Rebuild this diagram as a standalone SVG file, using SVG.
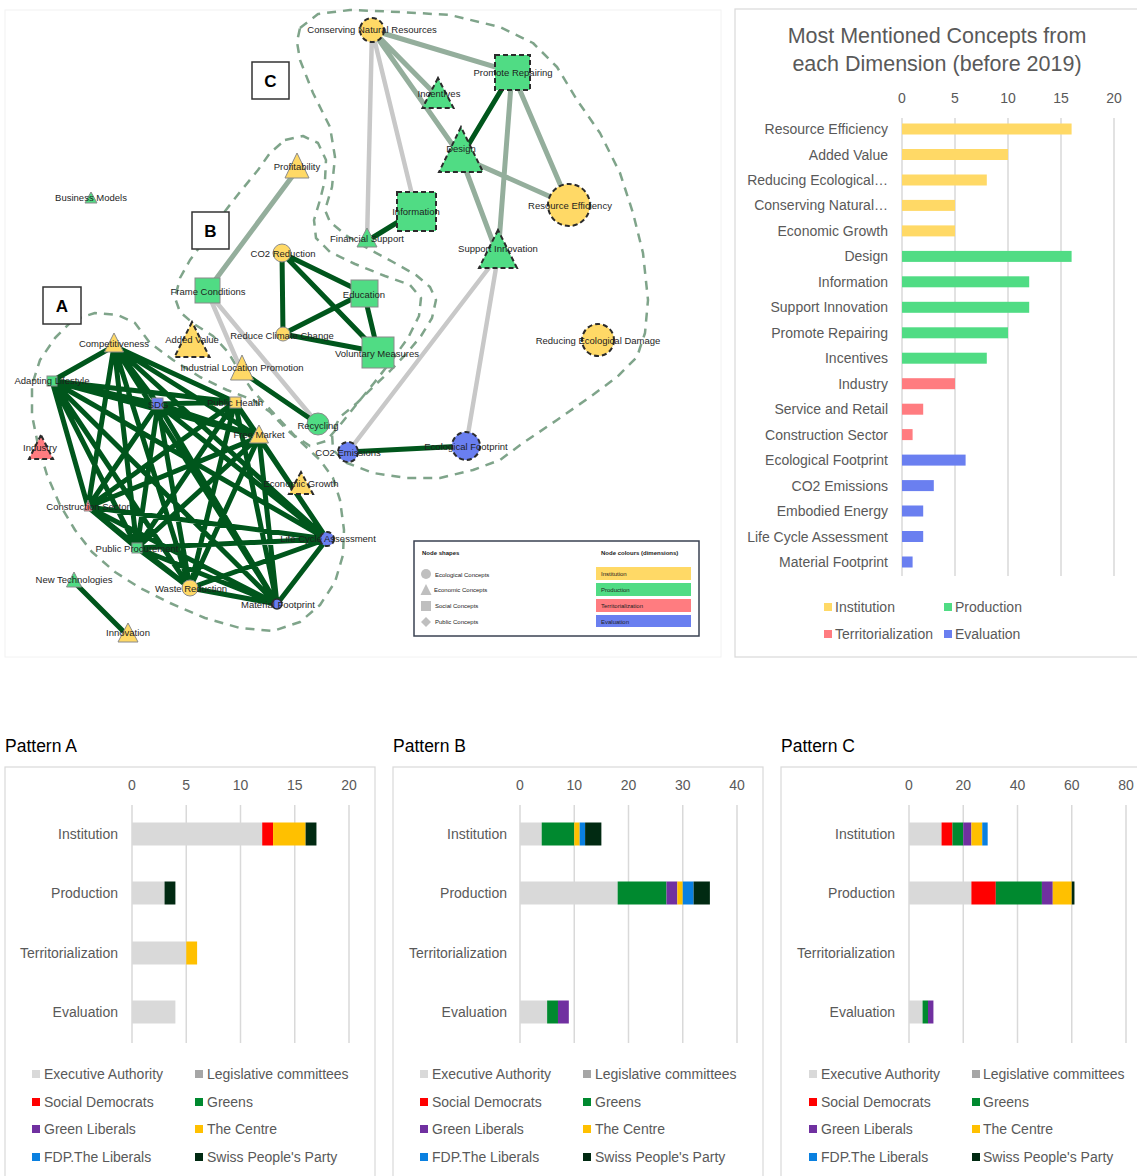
<svg xmlns="http://www.w3.org/2000/svg" width="1137" height="1176" viewBox="0 0 1137 1176">
<style>
.lbl{font-family:"Liberation Sans",Arial,sans-serif;font-size:9.5px;fill:#1e1e1e;text-anchor:middle}
.hull{fill:none;stroke:#7fa48a;stroke-width:2.5;stroke-dasharray:9 7;stroke-linejoin:round}
.dg{stroke:#00561c;stroke-width:5;fill:none}
.gg{stroke:#94ae9c;stroke-width:5;fill:none}
.lg{stroke:#c8c8c8;stroke-width:4.5;fill:none}
.y{fill:#FFD966}.g{fill:#50DC84}.r{fill:#FF7C80}.b{fill:#6A7FF0}
.sol{stroke:#8a8a8a;stroke-width:1}
.dsh{stroke:#2b2b2b;stroke-width:2;stroke-dasharray:5 3}
.box{fill:#fff;stroke:#333;stroke-width:1.5}
.boxt{font-family:"Liberation Sans",Arial,sans-serif;font-size:17px;font-weight:bold;text-anchor:middle;fill:#000}
.ct{font-family:"Liberation Sans",Arial,sans-serif;font-size:14px;fill:#595959}
.cr{text-anchor:end}
.cm{text-anchor:middle}
.grid{stroke:#d9d9d9;stroke-width:1.5}
.panel{fill:#fff;stroke:#d9d9d9;stroke-width:1.2}
.pt{font-family:"Liberation Sans",Arial,sans-serif;font-size:17.5px;fill:#000}
.lt{font-family:"Liberation Sans",Arial,sans-serif;font-size:6px;fill:#222}
.ex{fill:#D9D9D9}.leg{fill:#A6A6A6}.sd{fill:#FF0000}.gr{fill:#00892F}.gl{fill:#7030A0}.ce{fill:#FFC000}.fdp{fill:#0A80E0}.svp{fill:#012A12}
</style>
<rect width="1137" height="1176" fill="#fff"/>
<rect x="5" y="10" width="716" height="647" fill="none" stroke="#f2f2f2" stroke-width="1"/>

<!-- hulls -->
<g id="hulls">
<path class="hull" d="M73,320 L95,313 L118,315 L135,323 L150,343 L173,360 L200,377 L227,390 L253,400 L270,412 L285,428 L302,443 L320,460 L333,478 L340,500 L344,530 L343,555 L335,582 L320,605 L300,622 L273,631 L240,628 L205,618 L170,603 L140,588 L115,572 L92,552 L75,530 L60,505 L47,475 L38,445 L32,415 L32,385 L40,360 L55,338 Z"/>
<path class="hull" d="M285,140 L303,136 L318,143 L326,160 L325,180 L320,200 L314,220 L316,238 L330,252 L355,264 L385,276 L410,285 L421,298 L419,316 L408,338 L392,360 L374,383 L356,405 L340,425 L326,441 L310,446 L295,436 L280,420 L266,405 L252,390 L240,372 L228,352 L213,336 L194,324 L180,312 L175,298 L180,278 L190,260 L205,240 L222,215 L240,192 L258,170 L270,153 Z"/>
<path class="hull" d="M300,28 L318,14 L350,10 L400,12 L450,15 L500,27 L533,43 L557,67 L577,100 L600,133 L620,173 L633,213 L643,253 L648,300 L645,333 L637,357 L617,377 L590,397 L557,420 L523,443 L500,460 L473,470 L440,478 L407,478 L373,473 L347,463 L333,450 L332,433 L340,417 L357,403 L373,387 L390,371 L407,353 L421,336 L432,318 L436,300 L430,287 L416,275 L393,262 L367,248 L347,236 L330,222 L325,210 L332,187 L335,157 L330,127 L313,93 L300,60 L297,42 Z"/>
</g>

<!-- connectors -->
<g id="connectors">
<path class="lg" d="M372,30 L367,241 M372,30 L416,211 M498,256 L348,452 M498,256 L466,446 M207,291 L242,372 M207,291 L318,424"/>
<path class="gg" d="M372,30 L512,72 M372,30 L438,97 M372,30 L461,157 M512,72 L569,205 M512,72 L498,256 M461,157 L569,205 M461,157 L498,256 M297,170 L207,291"/>
<path class="dg" d="M512,72 L461,157 M416,211 L367,241 M348,452 L466,446 M242,372 L318,424 M282,253 L283,334 M282,253 L364,293 M282,253 L378,352 M283,334 L364,293 M283,334 L378,352 M364,293 L378,352 M74,582 L128,636"/>
<path class="dg" d="M114,346 L52,381 M114,346 L158,404 M114,346 L235,402 M114,346 L259,437 M114,346 L327,539 M114,346 L277,604 M114,346 L190,588 M114,346 L137,548 M114,346 L88,507
M52,381 L158,404 M52,381 L235,402 M52,381 L259,437 M52,381 L327,539 M52,381 L277,604 M52,381 L190,588 M52,381 L137,548 M52,381 L88,507
M158,404 L235,402 M158,404 L259,437 M158,404 L327,539 M158,404 L277,604 M158,404 L190,588 M158,404 L137,548 M158,404 L88,507
M235,402 L259,437 M235,402 L327,539 M235,402 L277,604 M235,402 L190,588 M235,402 L137,548 M235,402 L88,507
M259,437 L327,539 M259,437 L277,604 M259,437 L190,588 M259,437 L137,548 M259,437 L88,507
M327,539 L277,604 M327,539 L190,588 M327,539 L137,548 M327,539 L88,507
M277,604 L190,588 M277,604 L137,548 M277,604 L88,507
M190,588 L137,548 M190,588 L88,507
M137,548 L88,507"/>
</g>

<!-- nodes -->
<g id="n-conserving"><circle class="y dsh" cx="372" cy="30" r="12"/><text class="lbl" x="372" y="33">Conserving Natural Resources</text></g>
<g id="n-promote"><rect class="g dsh" x="495" y="55" width="35" height="35"/><text class="lbl" x="513" y="76">Promote Repairing</text></g>
<g id="n-incentives"><polygon class="g dsh" points="438,78 422.5,108 453.5,108"/><text class="lbl" x="439" y="97">Incentives</text></g>
<g id="n-design"><polygon class="g dsh" points="461,127 439,172 483,172"/><text class="lbl" x="461" y="152">Design</text></g>
<g id="n-information"><rect class="g dsh" x="397" y="192" width="39" height="39"/><text class="lbl" x="416" y="215">Information</text></g>
<g id="n-financial"><polygon class="g sol" points="367,228 357,247 377,247"/><text class="lbl" x="367" y="242">Financial Support</text></g>
<g id="n-resource"><circle class="y dsh" cx="569" cy="205" r="21"/><text class="lbl" x="570" y="209">Resource Efficiency</text></g>
<g id="n-support"><polygon class="g dsh" points="498,230 479,268 517,268"/><text class="lbl" x="498" y="252">Support Innovation</text></g>
<g id="n-reducing"><circle class="y dsh" cx="598" cy="340" r="16"/><text class="lbl" x="598" y="344">Reducing Ecological Damage</text></g>
<g id="n-ecofoot"><circle class="b dsh" cx="466" cy="446" r="14"/><text class="lbl" x="466" y="450">Ecological Footprint</text></g>
<g id="n-co2e"><circle class="b dsh" cx="348" cy="452" r="10"/><text class="lbl" x="348" y="456">CO2 Emissions</text></g>
<g id="n-recycling"><circle class="g sol" cx="318" cy="424" r="11"/><text class="lbl" x="318" y="429">Recycling</text></g>
<g id="n-voluntary"><rect class="g sol" x="362" y="337" width="32" height="31"/><text class="lbl" x="377" y="357">Voluntary Measures</text></g>
<g id="n-education"><rect class="g sol" x="351" y="280" width="27" height="27"/><text class="lbl" x="364" y="298">Education</text></g>
<g id="n-rcc"><circle class="y sol" cx="283" cy="334" r="7"/><text class="lbl" x="282" y="339">Reduce Climate Change</text></g>
<g id="n-co2r"><circle class="y sol" cx="282" cy="253" r="9"/><text class="lbl" x="283" y="257">CO2 Reduction</text></g>
<g id="n-frame"><rect class="g sol" x="195" y="278" width="25" height="25"/><text class="lbl" x="208" y="295">Frame Conditions</text></g>
<g id="n-profit"><polygon class="y sol" points="297,153 285,178 309,178"/><text class="lbl" x="297" y="170">Profitability</text></g>
<g id="n-business"><polygon class="g sol" points="91,192 85,203 97,203"/><text class="lbl" x="91" y="201">Business Models</text></g>
<g id="n-added"><polygon class="y dsh" points="192,322 174.5,357 209.5,357"/><text class="lbl" x="192" y="343">Added Value</text></g>
<g id="n-ilp"><polygon class="y sol" points="242,355 230.5,380 253.5,380"/><text class="lbl" x="242" y="371">Industrial Location Promotion</text></g>
<g id="n-compet"><polygon class="y sol" points="114,333 104.5,352 123.5,352"/><text class="lbl" x="114" y="347">Competitiveness</text></g>
<g id="n-adapting"><rect class="g sol" x="47" y="376" width="10" height="10"/><text class="lbl" x="52" y="384">Adapting Lifestyle</text></g>
<g id="n-sdg"><rect class="b sol" x="152" y="398" width="11" height="11"/><text class="lbl" x="158" y="408">SDG</text></g>
<g id="n-health"><rect class="y sol" x="230" y="397" width="11" height="11"/><text class="lbl" x="235" y="406">Public Health</text></g>
<g id="n-freemarket"><polygon class="y sol" points="259,425 249.5,443 268.5,443"/><text class="lbl" x="259" y="438">Free Market</text></g>
<g id="n-industry"><polygon class="r dsh" points="41,435 29,459 53,459"/><text class="lbl" x="40" y="451">Industry</text></g>
<g id="n-growth"><polygon class="y dsh" points="301,472 289,494 313,494"/><text class="lbl" x="301" y="487">Economic Growth</text></g>
<g id="n-construction"><polygon class="r sol" points="88,500 84,511 92,511"/><text class="lbl" x="88" y="510">Construction Sector</text></g>
<g id="n-lca"><circle class="b dsh" cx="327" cy="539" r="7"/><text class="lbl" x="328" y="542">Life Cycle Assessment</text></g>
<g id="n-procure"><rect class="g sol" x="132" y="543" width="10" height="10"/><text class="lbl" x="137" y="552">Public Procurement</text></g>
<g id="n-newtech"><polygon class="g sol" points="74,572 66.5,587 81.5,587"/><text class="lbl" x="74" y="583">New Technologies</text></g>
<g id="n-waste"><circle class="y sol" cx="190" cy="588" r="8"/><text class="lbl" x="191" y="592">Waste Reduction</text></g>
<g id="n-material"><circle class="b" cx="277" cy="604" r="5" stroke="#2b2b2b" stroke-width="1.5"/><text class="lbl" x="278" y="608">Material Footprint</text></g>
<g id="n-innovation"><polygon class="y sol" points="128,623 118,642 138,642"/><text class="lbl" x="128" y="636">Innovation</text></g>

<!-- pattern boxes -->
<g id="box-a"><rect class="box" x="43" y="287" width="38" height="37"/><text class="boxt" x="62" y="312">A</text></g>
<g id="box-b"><rect class="box" x="192" y="212" width="37" height="37"/><text class="boxt" x="210.5" y="237">B</text></g>
<g id="box-c"><rect class="box" x="252" y="62" width="37" height="37"/><text class="boxt" x="270.5" y="87">C</text></g>

<!-- network legend -->
<g id="net-legend">
<rect x="414" y="541" width="285" height="95" fill="#fff" stroke="#3a4252" stroke-width="1.5"/>
<text class="lt" x="422" y="555" font-weight="bold">Node shapes</text>
<text class="lt" x="601" y="555" font-weight="bold">Node colours (dimensions)</text>
<circle cx="426" cy="574" r="5" fill="#bfbfbf"/>
<polygon points="426,584 420.5,595 431.5,595" fill="#bfbfbf"/>
<rect x="421" y="601" width="10" height="10" fill="#bfbfbf"/>
<polygon points="426,617 431,622 426,627 421,622" fill="#bfbfbf"/>
<text class="lt" x="435" y="577">Ecological Concepts</text>
<text class="lt" x="434" y="592">Economic Concepts</text>
<text class="lt" x="435" y="608">Social Concepts</text>
<text class="lt" x="435" y="624">Public Concepts</text>
<rect x="596" y="567" width="95" height="13" class="y"/>
<rect x="596" y="583" width="95" height="13" class="g"/>
<rect x="596" y="599" width="95" height="13" class="r"/>
<rect x="596" y="615" width="95" height="12" class="b"/>
<text class="lt" x="601" y="576">Institution</text>
<text class="lt" x="601" y="592">Production</text>
<text class="lt" x="601" y="608">Territorialization</text>
<text class="lt" x="601" y="624">Evaluation</text>
</g>

<!-- right chart -->
<g id="chart-concepts">
<rect class="panel" x="735" y="9" width="410" height="648"/>
<text font-family="'Liberation Sans',Arial,sans-serif" font-size="21.5px" fill="#595959" text-anchor="middle" x="937" y="43">Most Mentioned Concepts from</text>
<text font-family="'Liberation Sans',Arial,sans-serif" font-size="21.5px" fill="#595959" text-anchor="middle" x="937" y="71">each Dimension (before 2019)</text>
<g class="ct cm"><text x="902" y="103">0</text><text x="955" y="103">5</text><text x="1008" y="103">10</text><text x="1061" y="103">15</text><text x="1114" y="103">20</text></g>
<path class="grid" d="M902,118 V576 M955,118 V576 M1008,118 V576 M1061,118 V576 M1114,118 V576"/>
<g>
<rect class="y" x="902" y="123.5" width="169.6" height="11"/>
<rect class="y" x="902" y="149" width="106" height="11"/>
<rect class="y" x="902" y="174.5" width="84.8" height="11"/>
<rect class="y" x="902" y="199.9" width="53" height="11"/>
<rect class="y" x="902" y="225.4" width="53" height="11"/>
<rect class="g" x="902" y="250.9" width="169.6" height="11"/>
<rect class="g" x="902" y="276.3" width="127.2" height="11"/>
<rect class="g" x="902" y="301.8" width="127.2" height="11"/>
<rect class="g" x="902" y="327.3" width="106" height="11"/>
<rect class="g" x="902" y="352.7" width="84.8" height="11"/>
<rect class="r" x="902" y="378.2" width="53" height="11"/>
<rect class="r" x="902" y="403.7" width="21.2" height="11"/>
<rect class="r" x="902" y="429.1" width="10.6" height="11"/>
<rect class="b" x="902" y="454.6" width="63.6" height="11"/>
<rect class="b" x="902" y="480.1" width="31.8" height="11"/>
<rect class="b" x="902" y="505.5" width="21.2" height="11"/>
<rect class="b" x="902" y="531" width="21.2" height="11"/>
<rect class="b" x="902" y="556.5" width="10.6" height="11"/>
</g>
<g class="ct cr">
<text x="888" y="134">Resource Efficiency</text>
<text x="888" y="159.5">Added Value</text>
<text x="888" y="185">Reducing Ecological…</text>
<text x="888" y="210.4">Conserving Natural…</text>
<text x="888" y="235.9">Economic Growth</text>
<text x="888" y="261.4">Design</text>
<text x="888" y="286.8">Information</text>
<text x="888" y="312.3">Support Innovation</text>
<text x="888" y="337.8">Promote Repairing</text>
<text x="888" y="363.2">Incentives</text>
<text x="888" y="388.7">Industry</text>
<text x="888" y="414.2">Service and Retail</text>
<text x="888" y="439.6">Construction Sector</text>
<text x="888" y="465.1">Ecological Footprint</text>
<text x="888" y="490.6">CO2 Emissions</text>
<text x="888" y="516">Embodied Energy</text>
<text x="888" y="541.5">Life Cycle Assessment</text>
<text x="888" y="567">Material Footprint</text>
</g>
<rect class="y" x="824" y="603" width="8" height="8"/><text class="ct" x="835" y="612">Institution</text>
<rect class="g" x="944" y="603" width="8" height="8"/><text class="ct" x="955" y="612">Production</text>
<rect class="r" x="824" y="630" width="8" height="8"/><text class="ct" x="835" y="639">Territorialization</text>
<rect class="b" x="944" y="630" width="8" height="8"/><text class="ct" x="955" y="639">Evaluation</text>
</g>

<!-- Pattern A -->
<g id="chart-pattern-a">
<text class="pt" x="5" y="752">Pattern A</text>
<rect class="panel" x="5" y="767" width="370" height="420"/>
<g class="ct cm"><text x="132" y="790">0</text><text x="186.25" y="790">5</text><text x="240.5" y="790">10</text><text x="294.75" y="790">15</text><text x="349" y="790">20</text></g>
<path class="grid" d="M132,805 V1043 M186.25,805 V1043 M240.5,805 V1043 M294.75,805 V1043 M349,805 V1043"/>
<rect class="ex" x="132" y="822.5" width="130.2" height="23"/>
<rect class="sd" x="262.2" y="822.5" width="10.85" height="23"/>
<rect class="ce" x="273.05" y="822.5" width="32.55" height="23"/>
<rect class="svp" x="305.6" y="822.5" width="10.85" height="23"/>
<rect class="ex" x="132" y="881.5" width="32.55" height="23"/>
<rect class="svp" x="164.55" y="881.5" width="10.85" height="23"/>
<rect class="ex" x="132" y="941.5" width="54.25" height="23"/>
<rect class="ce" x="186.25" y="941.5" width="10.85" height="23"/>
<rect class="ex" x="132" y="1000.5" width="43.4" height="23"/>
<g class="ct cr" font-size="14.5px"><text x="118" y="839">Institution</text><text x="118" y="898">Production</text><text x="118" y="958">Territorialization</text><text x="118" y="1017">Evaluation</text></g>
<rect class="ex" x="32" y="1070" width="8" height="8"/><text class="ct" x="44" y="1079">Executive Authority</text>
<rect class="leg" x="195" y="1070" width="8" height="8"/><text class="ct" x="207" y="1079">Legislative committees</text>
<rect class="sd" x="32" y="1098" width="8" height="8"/><text class="ct" x="44" y="1107">Social Democrats</text>
<rect class="gr" x="195" y="1098" width="8" height="8"/><text class="ct" x="207" y="1107">Greens</text>
<rect class="gl" x="32" y="1125" width="8" height="8"/><text class="ct" x="44" y="1134">Green Liberals</text>
<rect class="ce" x="195" y="1125" width="8" height="8"/><text class="ct" x="207" y="1134">The Centre</text>
<rect class="fdp" x="32" y="1153" width="8" height="8"/><text class="ct" x="44" y="1162">FDP.The Liberals</text>
<rect class="svp" x="195" y="1153" width="8" height="8"/><text class="ct" x="207" y="1162">Swiss People's Party</text>
</g>

<!-- Pattern B -->
<g id="chart-pattern-b">
<text class="pt" x="393" y="752">Pattern B</text>
<rect class="panel" x="393" y="767" width="370" height="420"/>
<g class="ct cm"><text x="520" y="790">0</text><text x="574.25" y="790">10</text><text x="628.5" y="790">20</text><text x="682.75" y="790">30</text><text x="737" y="790">40</text></g>
<path class="grid" d="M520,805 V1043 M574.25,805 V1043 M628.5,805 V1043 M682.75,805 V1043 M737,805 V1043"/>
<rect class="ex" x="520" y="822.5" width="21.7" height="23"/>
<rect class="gr" x="541.7" y="822.5" width="32.55" height="23"/>
<rect class="ce" x="574.25" y="822.5" width="5.425" height="23"/>
<rect class="fdp" x="579.675" y="822.5" width="5.425" height="23"/>
<rect class="svp" x="585.1" y="822.5" width="16.275" height="23"/>
<rect class="ex" x="520" y="881.5" width="97.65" height="23"/>
<rect class="gr" x="617.65" y="881.5" width="48.825" height="23"/>
<rect class="gl" x="666.475" y="881.5" width="10.85" height="23"/>
<rect class="ce" x="677.325" y="881.5" width="5.425" height="23"/>
<rect class="fdp" x="682.75" y="881.5" width="10.85" height="23"/>
<rect class="svp" x="693.6" y="881.5" width="16.275" height="23"/>
<rect class="ex" x="520" y="1000.5" width="27.125" height="23"/>
<rect class="gr" x="547.125" y="1000.5" width="10.85" height="23"/>
<rect class="gl" x="557.975" y="1000.5" width="10.85" height="23"/>
<g class="ct cr" font-size="14.5px"><text x="507" y="839">Institution</text><text x="507" y="898">Production</text><text x="507" y="958">Territorialization</text><text x="507" y="1017">Evaluation</text></g>
<rect class="ex" x="420" y="1070" width="8" height="8"/><text class="ct" x="432" y="1079">Executive Authority</text>
<rect class="leg" x="583" y="1070" width="8" height="8"/><text class="ct" x="595" y="1079">Legislative committees</text>
<rect class="sd" x="420" y="1098" width="8" height="8"/><text class="ct" x="432" y="1107">Social Democrats</text>
<rect class="gr" x="583" y="1098" width="8" height="8"/><text class="ct" x="595" y="1107">Greens</text>
<rect class="gl" x="420" y="1125" width="8" height="8"/><text class="ct" x="432" y="1134">Green Liberals</text>
<rect class="ce" x="583" y="1125" width="8" height="8"/><text class="ct" x="595" y="1134">The Centre</text>
<rect class="fdp" x="420" y="1153" width="8" height="8"/><text class="ct" x="432" y="1162">FDP.The Liberals</text>
<rect class="svp" x="583" y="1153" width="8" height="8"/><text class="ct" x="595" y="1162">Swiss People's Party</text>
</g>

<!-- Pattern C -->
<g id="chart-pattern-c">
<text class="pt" x="781" y="752">Pattern C</text>
<rect class="panel" x="781" y="767" width="370" height="420"/>
<g class="ct cm"><text x="909" y="790">0</text><text x="963.25" y="790">20</text><text x="1017.5" y="790">40</text><text x="1071.75" y="790">60</text><text x="1126" y="790">80</text></g>
<path class="grid" d="M909,805 V1043 M963.25,805 V1043 M1017.5,805 V1043 M1071.75,805 V1043 M1126,805 V1043"/>
<rect class="ex" x="909" y="822.5" width="32.55" height="23"/>
<rect class="sd" x="941.55" y="822.5" width="10.85" height="23"/>
<rect class="gr" x="952.4" y="822.5" width="10.85" height="23"/>
<rect class="gl" x="963.25" y="822.5" width="8.14" height="23"/>
<rect class="ce" x="971.39" y="822.5" width="10.85" height="23"/>
<rect class="fdp" x="982.24" y="822.5" width="5.43" height="23"/>
<rect class="ex" x="909" y="881.5" width="62.39" height="23"/>
<rect class="sd" x="971.39" y="881.5" width="24.41" height="23"/>
<rect class="gr" x="995.8" y="881.5" width="46.11" height="23"/>
<rect class="gl" x="1041.91" y="881.5" width="10.85" height="23"/>
<rect class="ce" x="1052.76" y="881.5" width="18.99" height="23"/>
<rect class="svp" x="1071.75" y="881.5" width="2.71" height="23"/>
<rect class="ex" x="909" y="1000.5" width="13.56" height="23"/>
<rect class="gr" x="922.56" y="1000.5" width="5.43" height="23"/>
<rect class="gl" x="927.99" y="1000.5" width="5.43" height="23"/>
<g class="ct cr" font-size="14.5px"><text x="895" y="839">Institution</text><text x="895" y="898">Production</text><text x="895" y="958">Territorialization</text><text x="895" y="1017">Evaluation</text></g>
<rect class="ex" x="809" y="1070" width="8" height="8"/><text class="ct" x="821" y="1079">Executive Authority</text>
<rect class="leg" x="972" y="1070" width="8" height="8"/><text class="ct" x="983" y="1079">Legislative committees</text>
<rect class="sd" x="809" y="1098" width="8" height="8"/><text class="ct" x="821" y="1107">Social Democrats</text>
<rect class="gr" x="972" y="1098" width="8" height="8"/><text class="ct" x="983" y="1107">Greens</text>
<rect class="gl" x="809" y="1125" width="8" height="8"/><text class="ct" x="821" y="1134">Green Liberals</text>
<rect class="ce" x="972" y="1125" width="8" height="8"/><text class="ct" x="983" y="1134">The Centre</text>
<rect class="fdp" x="809" y="1153" width="8" height="8"/><text class="ct" x="821" y="1162">FDP.The Liberals</text>
<rect class="svp" x="972" y="1153" width="8" height="8"/><text class="ct" x="983" y="1162">Swiss People's Party</text>
</g>
</svg>
